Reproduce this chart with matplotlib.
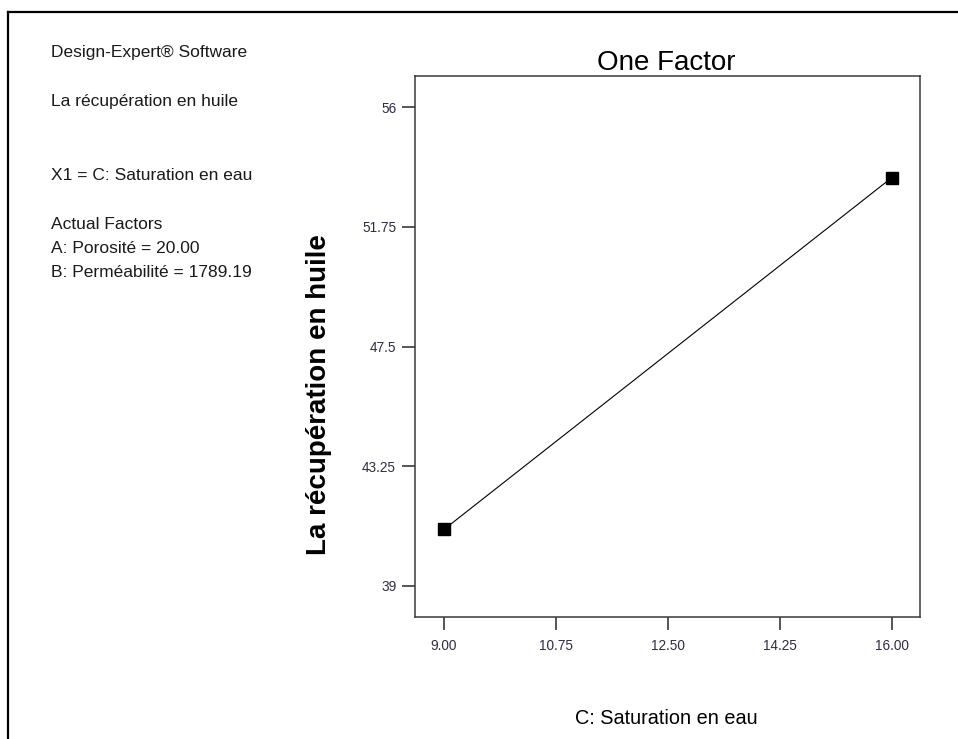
import matplotlib
matplotlib.use("Agg")
import matplotlib.pyplot as plt
from matplotlib.lines import Line2D

# ---- data ----
x_levels = [9.00, 16.00]
y_pred = [41.0, 53.5]
xtick_vals = [9.00, 10.75, 12.50, 14.25, 16.00]
xtick_labels = ["9.00", "10.75", "12.50", "14.25", "16.00"]
ytick_vals = [39, 43.25, 47.5, 51.75, 56]
ytick_labels = ["39", "43.25", "47.5", "51.75", "56"]
info_lines = [
    ("Design-Expert® Software", 57),
    ("La récupération en huile", 106),
    ("X1 = C: Saturation en eau", 180),
    ("Actual Factors", 229),
    ("A: Porosité = 20.00", 253),
    ("B: Perméabilité = 1789.19", 277),
]

W, H = 958, 739
plt.rcParams['font.family'] = ['Liberation Sans', 'DejaVu Sans']
fig = plt.figure(figsize=(W / 100, H / 100), dpi=100)
fig.patch.set_facecolor('white')

def fx(px):
    return px / W

def fy(py):
    return 1 - py / H

# outer frame (top and left edges visible)
fig.add_artist(Line2D([fx(8), fx(958)], [fy(12), fy(12)], color='black', lw=1.6,
                      transform=fig.transFigure))
fig.add_artist(Line2D([fx(8), fx(8)], [fy(12), fy(739)], color='black', lw=1.6,
                      transform=fig.transFigure))

ax = fig.add_axes([fx(415), fy(617), (920 - 415) / W, (617 - 76) / H])
ax.plot(x_levels, y_pred, color='black', lw=0.8, marker='s', markersize=8,
        markerfacecolor='black', markeredgecolor='black')
ax.set_xlim(8.547, 16.44)
ax.set_ylim(37.89, 57.11)
ax.set_xticks(xtick_vals)
ax.set_xticklabels(xtick_labels)
ax.set_yticks(ytick_vals)
ax.set_yticklabels(ytick_labels)
for s in ax.spines.values():
    s.set_color('#3a3a3a')
    s.set_linewidth(1.1)
ax.tick_params(axis='both', direction='out', length=9.5, width=1.2, color='#3a3a3a',
               labelsize=9.8, labelcolor='#332a44')
ax.tick_params(axis='x', pad=6.5)
ax.tick_params(axis='y', pad=4)

fig.text(fx(666), fy(70), "One Factor", ha='center', va='baseline', fontsize=20, color='black')
fig.text(fx(666), fy(718), "C: Saturation en eau", ha='center', va='center', fontsize=14.3,
         color='black')
fig.text(fx(319), fy(395), "La récupération en huile", ha='center', va='center', rotation=90,
         fontsize=20, fontweight='bold', color='black')

for txt, base in info_lines:
    fig.text(fx(51), fy(base), txt, ha='left', va='baseline', fontsize=12.5, color='#1a1a1a')

fig.savefig('out.png', dpi=100)
